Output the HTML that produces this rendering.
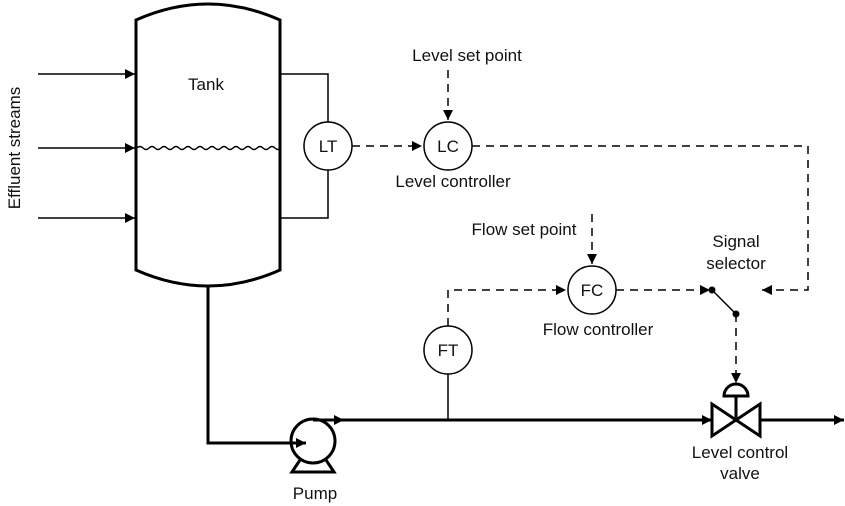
<!DOCTYPE html>
<html><head><style>body{margin:0;background:#fff}svg{display:block}text{font-family:"Liberation Sans",sans-serif;font-size:17px;fill:#111}</style></head>
<body>
<svg width="845" height="506" viewBox="0 0 845 506">
<defs>
<marker id="a" viewBox="0 0 10 10" refX="10" refY="5" markerWidth="15" markerHeight="10" markerUnits="userSpaceOnUse" orient="auto"><path d="M0,0L10,5L0,10z" fill="#000"/></marker>
</defs>
<g stroke="#000" fill="none">
<path d="M136,270V20Q208,-12 280,20V270Q208,302 136,270z" stroke-width="3" fill="#fff"/>
<path d="M137,148 q3,-3 6,0 t6,0 t6,0 t6,0 t6,0 t6,0 t6,0 t6,0 t6,0 t6,0 t6,0 t6,0 t6,0 t6,0 t6,0 t6,0 t6,0 t6,0 t6,0 t6,0 t6,0 t6,0 t6,0 t6,0" stroke-width="1.3"/>
<g stroke-width="1.5">
<line x1="38" y1="74" x2="135" y2="74" marker-end="url(#a)"/>
<line x1="38" y1="148" x2="135" y2="148" marker-end="url(#a)"/>
<line x1="38" y1="218" x2="135" y2="218" marker-end="url(#a)"/>
<path d="M281,74H328V122M328,170V218H281"/>
<circle cx="328" cy="146" r="24"/>
<circle cx="448" cy="146" r="24"/>
<circle cx="592" cy="290" r="24"/>
<circle cx="448" cy="350" r="24"/>
<line x1="448" y1="374" x2="448" y2="420"/>
</g>
<path d="M208,286V443H306" stroke-width="3" marker-end="url(#a)"/>
<circle cx="313" cy="441" r="22" stroke-width="3" fill="none"/>
<path d="M300,460L292,472H334L326,460" stroke-width="3"/>
<path d="M313,420H344" stroke-width="3" marker-end="url(#a)"/>
<path d="M335,420H712" stroke-width="3" marker-end="url(#a)"/>
<path d="M760,420H844" stroke-width="3" marker-end="url(#a)"/>
<path d="M712,404V436L760,404V436z" stroke-width="3" fill="#fff"/>
<path d="M736,420V396" stroke-width="3"/>
<path d="M724,396A12,12 0 0 1 748,396z" stroke-width="3" fill="#fff"/>
<g stroke-width="1.5" stroke-dasharray="8,6">
<line x1="448" y1="70" x2="448" y2="120" marker-end="url(#a)"/>
<line x1="352" y1="146" x2="422" y2="146" marker-end="url(#a)"/>
<path d="M472,146H808V290H762" marker-end="url(#a)"/>
<line x1="592" y1="214" x2="592" y2="264" marker-end="url(#a)"/>
<path d="M448,326V290H566" marker-end="url(#a)"/>
<line x1="616" y1="290" x2="710" y2="290" marker-end="url(#a)"/>
<line x1="736" y1="314" x2="736" y2="383" marker-end="url(#a)"/>
</g>
<line x1="712" y1="290" x2="736" y2="314" stroke-width="1.5"/>
</g>
<circle cx="712" cy="290" r="3.5"/><circle cx="736" cy="314" r="3.5"/>
<text x="206" y="90" text-anchor="middle">Tank</text>
<text x="328" y="152" text-anchor="middle">LT</text>
<text x="448" y="152" text-anchor="middle">LC</text>
<text x="592" y="296" text-anchor="middle">FC</text>
<text x="448" y="356" text-anchor="middle">FT</text>
<text x="467" y="61" text-anchor="middle">Level set point</text>
<text x="453" y="187" text-anchor="middle">Level controller</text>
<text x="524" y="235" text-anchor="middle">Flow set point</text>
<text x="598" y="335" text-anchor="middle">Flow controller</text>
<text x="736" y="247" text-anchor="middle">Signal</text>
<text x="736" y="269" text-anchor="middle">selector</text>
<text x="740" y="458" text-anchor="middle">Level control</text>
<text x="740" y="479" text-anchor="middle">valve</text>
<text x="315" y="499" text-anchor="middle">Pump</text>
<text transform="translate(20,148) rotate(-90)" text-anchor="middle">Effluent streams</text>
</svg>
</body></html>
